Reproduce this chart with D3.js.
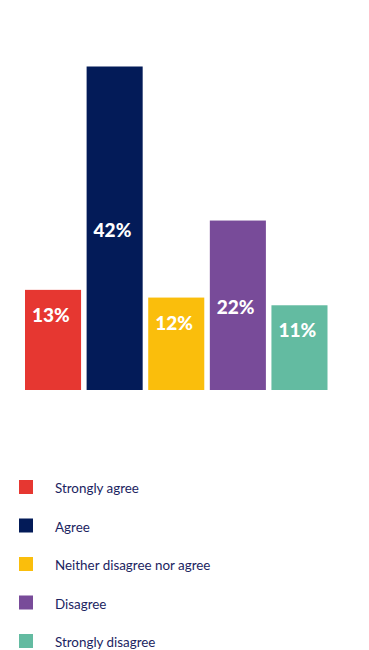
<!DOCTYPE html>
<html>
<head>
<meta charset="utf-8">
<script src="https://d3js.org/d3.v7.min.js"></script>
<style>
  body { margin: 0; background: #fff; }
</style>
</head>
<body>
<div id="graph"></div>
<script>

// data
var categories = ["Strongly agree", "Agree", "Neither disagree nor agree", "Disagree", "Strongly disagree"];
var values = [13, 42, 12, 22, 11];
var colors = ["#e63731", "#031b58", "#fabe0c", "#784b99", "#63bba1"];

var width = 369, height = 650;

var svg = d3.select("#graph")
  .append("svg")
    .attr("width", width)
    .attr("height", height)
    .style("font-family", "Lato, 'Open Sans', sans-serif");

// scales
var x = d3.scaleBand()
  .domain(categories)
  .range([25, 327.5])
  .paddingInner(0.09)
  .paddingOuter(0);

var y = d3.scaleLinear()
  .domain([0, 42])
  .range([390, 66.5]);

// bars
svg.append("g")
  .selectAll("rect")
  .data(categories)
  .enter()
  .append("rect")
    .attr("x", function(d) { return x(d); })
    .attr("y", function(d, i) { return y(values[i]); })
    .attr("width", x.bandwidth())
    .attr("height", function(d, i) { return y(0) - y(values[i]); })
    .attr("fill", function(d, i) { return colors[i]; });

// value labels: tall bars get the label in the middle, short ones near the top
svg.append("g")
  .selectAll("text")
  .data(categories)
  .enter()
  .append("text")
    .attr("x", function(d) { return x(d) + 7; })
    .attr("y", function(d, i) {
      var v = values[i];
      return v >= 20 ? y(v / 2) + 9 : y(v) + 32;
    })
    .attr("fill", "#fff")
    .attr("font-weight", "900")
    .attr("font-size", "19px")
    .text(function(d, i) { return values[i] + "%"; });

// legend
var ly = d3.scalePoint()
  .domain(categories)
  .range([480, 634]);

var legend = svg.selectAll(".legend")
  .data(categories)
  .enter().append("g")
    .attr("class", "legend")
    .attr("transform", function(d) { return "translate(19," + ly(d) + ")"; });

legend.append("rect")
  .attr("width", 14).attr("height", 14)
  .attr("fill", function(d, i) { return colors[i]; });

legend.append("text")
  .attr("x", 36)
  .attr("y", 13)
  .attr("fill", "#1b2461")
  .attr("font-size", "13.4px")
  .text(function(d) { return d; });

</script>
</body>
</html>
